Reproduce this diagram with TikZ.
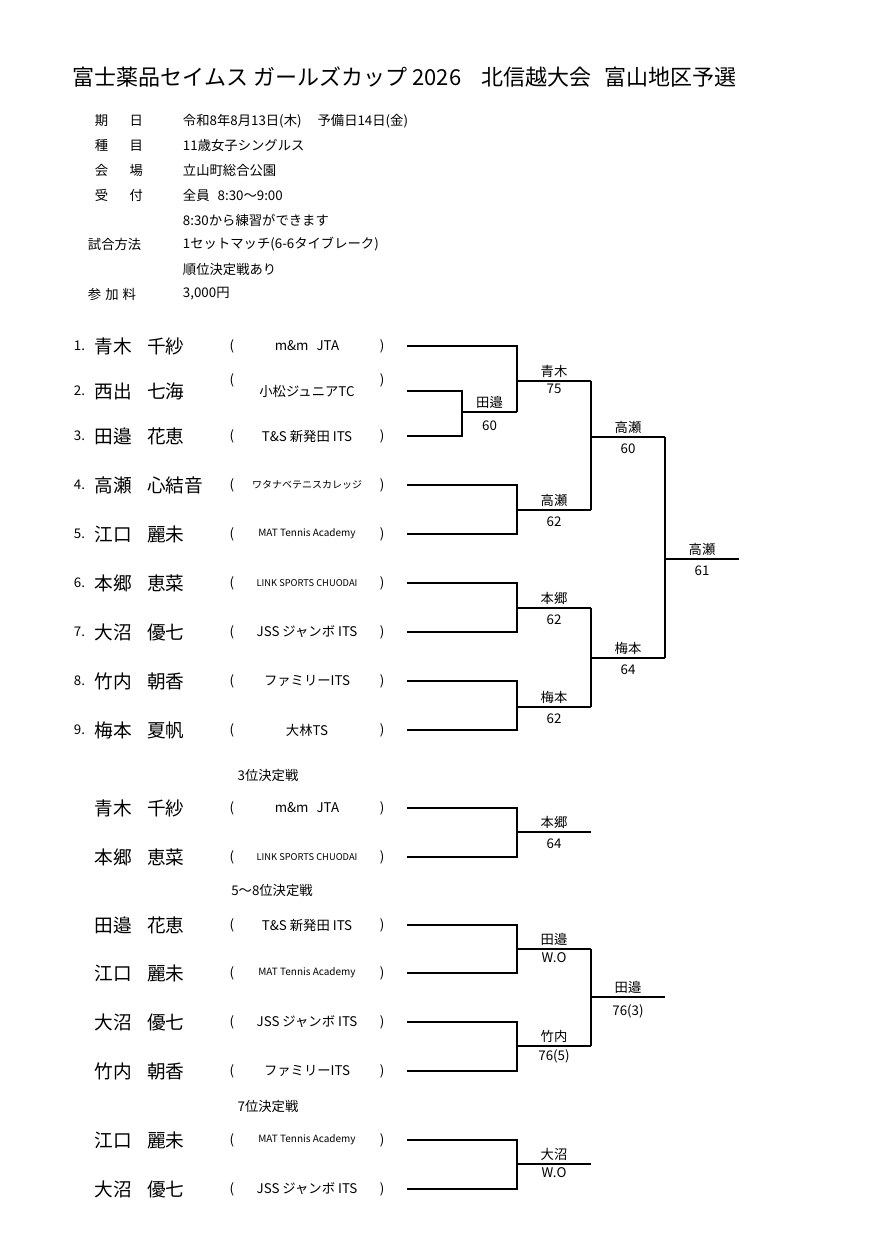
\documentclass[tikz,border=0pt]{standalone}
\usepackage{fontspec}
\setmainfont{Noto Sans CJK JP}
\usetikzlibrary{calc}
\tikzset{
  pname/.style={anchor=west,font=\fontsize{14}{16}\selectfont},
  pnum/.style={anchor=east,font=\fontsize{10}{11}\selectfont},
  club/.style={font=\fontsize{9.5}{11}\selectfont},
  paren/.style={font=\fontsize{10}{11}\selectfont},
  hd/.style={anchor=west,font=\fontsize{10}{12}\selectfont},
  res/.style={font=\fontsize{10}{11}\selectfont,inner sep=2pt},
  ttl/.style={font=\fontsize{10}{11}\selectfont},
}
% one entry: id, y, number, name, club, club font size, paren shift
\newcommand\entry[7]{%
  \node[pnum] (n#1) at (90,#2) {#3};
  \node[pname] (s#1) at (90,#2) {#4};
  \node[paren,yshift=#7] (l#1) at (232,#2) {(};
  \node[paren,yshift=#7] (r#1) at (382,#2) {)};
  \node[club,font=\fontsize{#6}{#6}\selectfont] (c#1) at (307,#2) {#5};
  \coordinate (p#1) at (407,#2);
}
\begin{document}
\begin{tikzpicture}[x=0.75pt,y=-0.75pt,line width=0.8pt]
  \useasboundingbox (0,0) rectangle (890,1258);
  \fill[white] (0,0) rectangle (890,1258);

  \node[anchor=west,font=\fontsize{16.5}{18}\selectfont] (title) at (68,77)
    {富士薬品セイムス ガールズカップ 2026\hspace{0.9em}北信越大会\hspace{0.6em}富山地区予選};

  % header rows
  \node[hd] (h1) at (90,121) {期\hspace{1.6em}日};
  \node[hd] (v1) at (178,121) {令和8年8月13日(木)\hspace{1.2em}予備日14日(金)};
  \node[hd] (h2) at (90,145) {種\hspace{1.6em}目};
  \node[hd] (v2) at (178,145) {11歳女子シングルス};
  \node[hd] (h3) at (90,170) {会\hspace{1.6em}場};
  \node[hd] (v3) at (178,170) {立山町総合公園};
  \node[hd] (h4) at (90,195) {受\hspace{1.6em}付};
  \node[hd] (v4) at (178,195) {全員\hspace{0.6em}8:30〜9:00};
  \node[hd] (v4b) at (178,220) {8:30から練習ができます};
  \node[hd] (h5) at (83,244) {試合方法};
  \node[hd] (v5) at (178,244) {1セットマッチ(6-6タイブレーク)};
  \node[hd] (v5b) at (178,269) {順位決定戦あり};
  \node[hd] (h6) at (83,294) {参\hspace{0.3em}加\hspace{0.3em}料};
  \node[hd] (v6) at (178,294) {3,000円};

  % main draw
  \entry{1}{346}{1.}{青木\hspace{0.8em}千紗}{m\&m\hspace{0.6em}JTA}{10}{0pt}
  \entry{2}{391}{2.}{西出\hspace{0.8em}七海}{小松ジュニアTC}{10}{8pt}
  \entry{3}{436}{3.}{田邉\hspace{0.8em}花恵}{T\&S 新発田 ITS}{10}{0pt}
  \entry{4}{485}{4.}{高瀬\hspace{0.8em}心結音}{ワタナベテニスカレッジ}{7.5}{0pt}
  \entry{5}{534}{5.}{江口\hspace{0.8em}麗未}{MAT Tennis Academy}{7.5}{0pt}
  \entry{6}{583}{6.}{本郷\hspace{0.8em}恵菜}{LINK SPORTS CHUODAI}{7}{0pt}
  \entry{7}{632}{7.}{大沼\hspace{0.8em}優七}{JSS ジャンボ ITS}{10}{0pt}
  \entry{8}{681}{8.}{竹内\hspace{0.8em}朝香}{ファミリーITS}{10}{0pt}
  \entry{9}{730}{9.}{梅本\hspace{0.8em}夏帆}{大林TS}{10}{0pt}

  \coordinate (j0) at (462,412); \coordinate (w0) at (517,412);
  \coordinate (j1) at (517,381); \coordinate (w1) at (591,381);
  \coordinate (j2) at (517,510); \coordinate (w2) at (591,510);
  \coordinate (j3) at (517,608); \coordinate (w3) at (591,608);
  \coordinate (j4) at (517,707); \coordinate (w4) at (591,707);
  \coordinate (j5) at (591,437); \coordinate (w5) at (665,437);
  \coordinate (j6) at (591,658); \coordinate (w6) at (665,658);
  \coordinate (j7) at (665,559); \coordinate (w7) at (739,559);

  \draw (p2) -| (j0); \draw (p3) -| (j0) -- node[res,above]{田邉} node[res,below=4pt]{60} (w0);
  \draw (p1) -| (j1); \draw (w0) -| (j1) -- node[res,above]{青木} node[res,below]{75} (w1);
  \draw (p4) -| (j2); \draw (p5) -| (j2) -- node[res,above]{高瀬} node[res,below=3pt]{62} (w2);
  \draw (p6) -| (j3); \draw (p7) -| (j3) -- node[res,above]{本郷} node[res,below=3pt]{62} (w3);
  \draw (p8) -| (j4); \draw (p9) -| (j4) -- node[res,above]{梅本} node[res,below=3pt]{62} (w4);
  \draw (w1) -| (j5); \draw (w2) -| (j5) -- node[res,above]{高瀬} node[res,below=3pt]{60} (w5);
  \draw (w3) -| (j6); \draw (w4) -| (j6) -- node[res,above]{梅本} node[res,below=3pt]{64} (w6);
  \draw (w5) -| (j7); \draw (w6) -| (j7) -- node[res,above]{高瀬} node[res,below=3pt]{61} (w7);

  % 3rd place
  \node[ttl] (t3) at (268,775) {3位決定戦};
  \entry{a}{808}{}{青木\hspace{0.8em}千紗}{m\&m\hspace{0.6em}JTA}{10}{0pt}
  \entry{b}{857}{}{本郷\hspace{0.8em}恵菜}{LINK SPORTS CHUODAI}{7}{0pt}
  \coordinate (ja) at (517,832); \coordinate (wa) at (591,832);
  \draw (pa) -| (ja); \draw (pb) -| (ja) -- node[res,above]{本郷} node[res,below=3pt]{64} (wa);

  % 5-8
  \node[ttl] (t5) at (272,890) {5〜8位決定戦};
  \entry{c}{925}{}{田邉\hspace{0.8em}花恵}{T\&S 新発田 ITS}{10}{0pt}
  \entry{d}{973}{}{江口\hspace{0.8em}麗未}{MAT Tennis Academy}{7.5}{0pt}
  \entry{e}{1022}{}{大沼\hspace{0.8em}優七}{JSS ジャンボ ITS}{10}{0pt}
  \entry{f}{1071}{}{竹内\hspace{0.8em}朝香}{ファミリーITS}{10}{0pt}
  \coordinate (jc) at (517,949); \coordinate (wc) at (591,949);
  \coordinate (je) at (517,1046); \coordinate (we) at (591,1046);
  \coordinate (jg) at (591,997); \coordinate (wg) at (665,997);
  \draw (pc) -| (jc); \draw (pd) -| (jc) -- node[res,above]{田邉} node[res,below]{W.O} (wc);
  \draw (pe) -| (je); \draw (pf) -| (je) -- node[res,above]{竹内} node[res,below]{76(5)} (we);
  \draw (wc) -| (jg); \draw (we) -| (jg) -- node[res,above]{田邉} node[res,below=3pt]{76(3)} (wg);

  % 7th
  \node[ttl] (t7) at (268,1106) {7位決定戦};
  \entry{h}{1140}{}{江口\hspace{0.8em}麗未}{MAT Tennis Academy}{7.5}{0pt}
  \entry{i}{1189}{}{大沼\hspace{0.8em}優七}{JSS ジャンボ ITS}{10}{0pt}
  \coordinate (jh) at (517,1164); \coordinate (wh) at (591,1164);
  \draw (ph) -| (jh); \draw (pi) -| (jh) -- node[res,above]{大沼} node[res,below]{W.O} (wh);
\end{tikzpicture}
\end{document}
